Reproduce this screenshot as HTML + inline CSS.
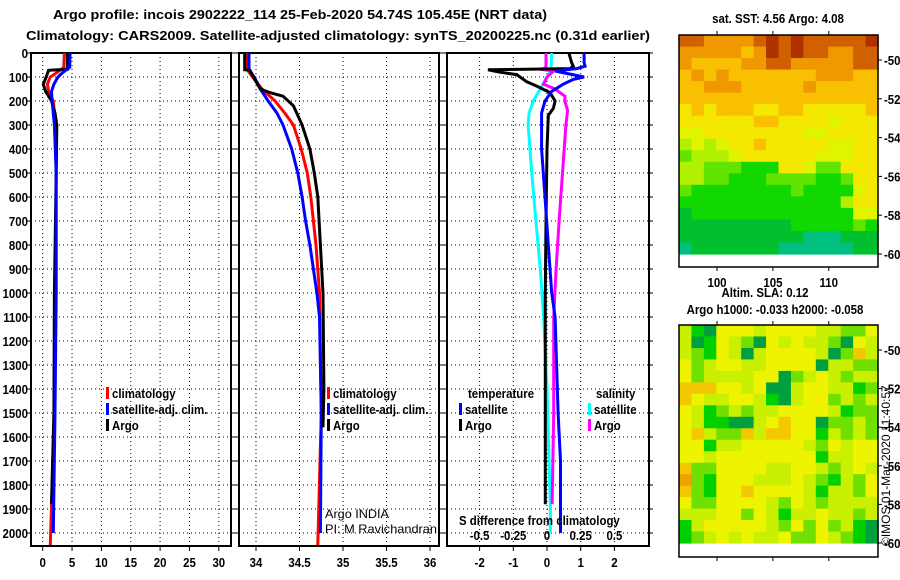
<!DOCTYPE html>
<html><head><meta charset="utf-8"><style>
html,body{margin:0;padding:0;background:#fff;}
svg{display:block;font-family:"Liberation Sans",sans-serif;}
.b{font-weight:bold;font-size:13px;}
</style></head><body>
<svg id="c" width="900" height="580" viewBox="0 0 900 580" xmlns="http://www.w3.org/2000/svg">
<text x="53" y="19" class="b" font-size="14" textLength="494" lengthAdjust="spacingAndGlyphs">Argo profile: incois 2902222_114 25-Feb-2020 54.74S 105.45E (NRT data)</text>
<text x="26" y="40" class="b" font-size="14" textLength="624" lengthAdjust="spacingAndGlyphs">Climatology: CARS2009. Satellite-adjusted climatology: synTS_20200225.nc (0.31d earlier)</text>
<g id="g"></g>
</svg>
<script>
// ---- data ----
const depthTicks=[0,100,200,300,400,500,600,700,800,900,1000,1100,1200,1300,1400,1500,1600,1700,1800,1900,2000];
const tTicks=[0,5,10,15,20,25,30];
const sTicks=[34,34.5,35,35.5,36];
const dTicks=[-2,-1,0,1,2];
const dsLabels=["-0.5","-0.25","0","0.25","0.5"];
const dsValues=[-0.5,-0.25,0,0.25,0.5];
// temperature profiles [depth, value]
const tArgo=[[0,4.2],[68,4.2],[72,1.0],[100,0.6],[130,0.1],[160,0.5],[200,1.5],[250,2.1],[300,2.4],[500,2.3],[1000,2.0],[1500,1.9],[1880,1.5]];
const tClim=[[0,3.7],[60,3.6],[80,2.5],[100,1.3],[130,0.8],[160,1.0],[200,1.8],[300,2.2],[450,2.3],[1000,2.2],[1500,2.0],[2050,1.3]];
const tSat=[[0,4.65],[60,4.6],[80,3.5],[100,2.6],[130,1.9],[160,1.5],[200,1.6],[300,2.0],[500,2.3],[1000,2.3],[1500,2.1],[2000,1.8]];
// salinity profiles
const sArgo=[[0,33.87],[70,33.87],[72,33.93],[100,33.97],[150,34.05],[165,34.16],[180,34.31],[220,34.43],[260,34.48],[300,34.53],[400,34.62],[500,34.67],[600,34.71],[800,34.74],[1000,34.77],[1400,34.78],[1560,34.77]];
const sClim=[[0,33.90],[70,33.90],[100,33.96],[150,34.07],[200,34.22],[250,34.33],[300,34.43],[400,34.52],[500,34.59],[600,34.63],[800,34.69],[1000,34.73],[1500,34.75],[2050,34.71]];
const sSat=[[0,33.92],[70,33.92],[100,33.98],[150,34.05],[200,34.14],[250,34.24],[300,34.31],[400,34.41],[500,34.48],[600,34.53],[700,34.57],[800,34.62],[900,34.66],[1000,34.70],[1100,34.73],[1500,34.75],[2000,34.74]];
// differences from climatology (T units; salinity plotted x4)
const dTArgo=[[0,0.65],[40,0.73],[55,0.78],[65,0.68],[70,-1.75],[80,-1.4],[90,-0.9],[105,-0.75],[120,-0.6],[140,-0.27],[165,0.09],[200,0.24],[230,0.19],[260,0.04],[400,0],[700,-0.03],[1000,-0.05],[1500,-0.05],[1880,-0.05]];
const dTSat=[[0,1.1],[40,1.1],[55,1.13],[65,0.88],[75,0.24],[85,0.58],[100,1.1],[110,0.78],[130,0.48],[160,0.14],[200,-0.06],[250,-0.16],[400,-0.16],[600,-0.06],[800,0.04],[1000,0.14],[1100,0.24],[1500,0.33],[1700,0.4],[2000,0.4]];
const dSSat=[[0,0.14],[70,0.12],[100,0],[150,-0.2],[200,-0.41],[250,-0.53],[300,-0.56],[500,-0.45],[700,-0.33],[900,-0.2],[1100,-0.1],[1400,0],[1900,0.1],[2000,0.1]];
const dSArgo=[[0,-0.03],[60,-0.03],[65,-0.1],[68,-0.2],[75,0.2],[100,0],[130,-0.1],[150,0.24],[180,0.53],[200,0.53],[240,0.61],[300,0.56],[500,0.46],[700,0.36],[900,0.27],[1100,0.2],[1500,0.2],[1880,0.15]];
// maps
const lonTicks=[100,105,110];
const latTicks=[-50,-52,-54,-56,-58,-60];
const sstRows=["9988889A9A99999A","8888878A9A998899","8777788998888899","7878777777788877","7788877777877777","7777777777777777","6767776677666667","6666667766665666","5566666666556666","4545667666665566","3444566666655566","4433322266533666","4433222333322366","3222222223222256","2222222222222466","1222222222222255","1111111112222232","1111111111000111","0111111100000011"];
const slaRows=["3104443444433224","3014320434332043","3214303444430253","4234433444403322","4233334402343233","5554434003443312","5433443103442323","4312323344443122","4311003454402232","4532253554413232","4413344444324344","4434444444413344","5224444334432343","6214443334321324","5214454444313324","4224444324323333","3334424313343323","1344444324242310","1234343342243210"];
const sstPal=["#00c080","#00c030","#10d800","#60e400","#b0f000","#e0f400","#f4e800","#f8c000","#f09800","#d06000","#b03000"];
const slaPal=["#00a040","#00d000","#70e000","#c8f000","#eef400","#f4c800","#f0a000"];

// ---- drawing ----
const NS="http://www.w3.org/2000/svg";
const G=document.getElementById('g');
function mk(t,a,p){const e=document.createElementNS(NS,t);for(const k in a)e.setAttribute(k,a[k]);(p||G).appendChild(e);return e;}
const pTop=53,pBot=546;
const yD=d=>pTop+d*0.24;
const xT=v=>42.7+v*5.87, xS=v=>256+(v-34)*87, xDf=v=>547+v*33.7;
const panels=[{l:31,r:231,x:xT,ticks:tTicks,n:'temperature'},{l:239,r:439,x:xS,ticks:sTicks,n:'salinity'},{l:447,r:649,x:xDf,ticks:dTicks,n:'difference'}];
panels.forEach(p=>{
  const g=mk('g',{});
  
  
  depthTicks.forEach(d=>{const y=yD(d);const l=mk('line',{x1:p.l,x2:p.r,y1:y,y2:y,stroke:'#000','stroke-dasharray':'1 3','stroke-width':1},g);
    
    
    mk('line',{x1:p.l-4,x2:p.l,y1:y,y2:y,stroke:'#000','stroke-width':1},g);mk('line',{x1:p.r,x2:p.r+4,y1:y,y2:y,stroke:'#000','stroke-width':1},g);});
  p.ticks.forEach(v=>{const x=p.x(v);const l=mk('line',{x1:x,x2:x,y1:pTop,y2:pBot,stroke:'#000','stroke-dasharray':'1 3','stroke-width':1},g);
    
    
    mk('line',{x1:x,x2:x,y1:pBot,y2:pBot+5,stroke:'#000'},g);
    const t=mk('text',{x:x,y:567,'text-anchor':'middle',class:'b'},g);t.textContent=String(v);
    
    });
  const r=mk('rect',{x:p.l,y:pTop,width:p.r-p.l,height:pBot-pTop,fill:'none',stroke:'#000','stroke-width':2},g);
  
  
});
depthTicks.forEach(d=>{const t=mk('text',{x:28,y:yD(d)+5,'text-anchor':'end',class:'b'});t.textContent=d;
  
  });
function line(data,fx,col,name){const pts=data.map(p=>fx(p[1]).toFixed(1)+','+yD(p[0]).toFixed(1)).join(' ');
  const e=mk('polyline',{points:pts,fill:'none',stroke:col,'stroke-width':3});
  
  }
line(tClim,xT,'#f00','temp-climatology-line');line(tArgo,xT,'#000','temp-argo-line');line(tSat,xT,'#00f','temp-satellite-line');
line(sClim,xS,'#f00','sal-climatology-line');line(sSat,xS,'#00f','sal-satellite-line');line(sArgo,xS,'#000','sal-argo-line');
line(dSSat,xDf,'#0ff','sdiff-satellite-line');line(dSArgo,xDf,'#f0f','sdiff-argo-line');line(dTArgo,xDf,'#000','tdiff-argo-line');line(dTSat,xDf,'#00f','tdiff-satellite-line');
function leg(x,y,col,txt,name){if(col){mk('rect',{x:x,y:y-9,width:3,height:12,fill:col});}
  const t=mk('text',{x:x+6,y:y+2,class:'b'});t.textContent=txt;
  
  }
leg(106,396,'#f00','climatology','legend-climatology');leg(106,412,'#00f','satellite-adj. clim.','legend-satellite-adj');leg(106,428,'#000','Argo','legend-argo');
leg(327,396,'#f00','climatology','legend-climatology-2');leg(327,412,'#00f','satellite-adj. clim.','legend-satellite-adj-2');leg(327,428,'#000','Argo','legend-argo-2');
leg(462,396,null,'temperature','legend-temperature-header');leg(459,412,'#00f','satellite','legend-t-satellite');leg(459,428,'#000','Argo','legend-t-argo');
leg(590,396,null,'salinity','legend-salinity-header');leg(588,412,'#0ff','satellite','legend-s-satellite');leg(588,428,'#f0f','Argo','legend-s-argo');
let t=mk('text',{x:459,y:525,class:'b'});t.textContent='S difference from climatology';


dsValues.forEach((v,i)=>{const e=mk('text',{x:xDf(v*4),y:540,'text-anchor':'middle',class:'b'});e.textContent=dsLabels[i];
  
  });
t=mk('text',{x:325,y:518,'font-size':12,textLength:64,lengthAdjust:'spacingAndGlyphs'});t.textContent='Argo INDIA';


t=mk('text',{x:325,y:533,'font-size':12,textLength:112,lengthAdjust:'spacingAndGlyphs'});t.textContent='PI: M Ravichandran';


// maps
const mL=679,mR=878,lon0=96.6,lon1=114.4;
const xLon=v=>mL+(v-lon0)*(mR-mL)/(lon1-lon0);
function map(rows,pal,yTop,yBot,lat50,lat60,name){
  const g=mk('g',{});
  
  
  const yLat=v=>lat50+(v+50)/(-10)*(lat60-lat50);
  const nr=rows.length,nc=rows[0].length,ch=(yLat(-60)-yTop)/nr,cw=(mR-mL)/nc;
  rows.forEach((r,i)=>{for(let j=0;j<nc;j++){const c=mk('rect',{x:(mL+j*cw).toFixed(2),y:(yTop+i*ch).toFixed(2),width:(cw+0.6).toFixed(2),height:(ch+0.6).toFixed(2),fill:pal[parseInt(r[j],16)]},g);
    
    }});
  mk('rect',{x:mL,y:yTop,width:mR-mL,height:yBot-yTop,fill:'none',stroke:'#000','stroke-width':1.5},g);
  latTicks.forEach(v=>{const y=yLat(v);mk('line',{x1:mR,x2:mR+4,y1:y,y2:y,stroke:'#000'},g);const e=mk('text',{x:884,y:y+5,class:'b'},g);e.textContent=v;
    
    });
  lonTicks.forEach(v=>{const x=xLon(v);mk('line',{x1:x,x2:x,y1:yTop-4,y2:yTop,stroke:'#000'},g);mk('line',{x1:x,x2:x,y1:yBot,y2:yBot+4,stroke:'#000'},g);});
}
map(sstRows,sstPal,35,267,60,254,'sst-map');
map(slaRows,slaPal,325,557,350,543,'sla-map');
lonTicks.forEach(v=>{const e=mk('text',{x:xLon(v),y:287,'text-anchor':'middle',class:'b'});e.textContent=v;
  
  });
t=mk('text',{x:778,y:23,'text-anchor':'middle',class:'b'});t.textContent='sat. SST: 4.56 Argo: 4.08';


t=mk('text',{x:765,y:297,'text-anchor':'middle',class:'b'});t.textContent='Altim. SLA: 0.12';


t=mk('text',{x:775,y:314,'text-anchor':'middle',class:'b'});t.textContent='Argo h1000: -0.033 h2000: -0.058';


t=mk('text',{x:0,y:0,'font-size':12,transform:'translate(890,546) rotate(-90)',fill:'#000'});t.textContent='©IMOS 01-Mar-2020 11:40:57';


// condense bold labels to match the reference's narrow font
document.querySelectorAll('#g text.b').forEach(e=>{const w=e.getComputedTextLength();if(w>0){e.setAttribute('textLength',(w*0.88).toFixed(1));e.setAttribute('lengthAdjust','spacingAndGlyphs');}});
</script>
</body></html>
